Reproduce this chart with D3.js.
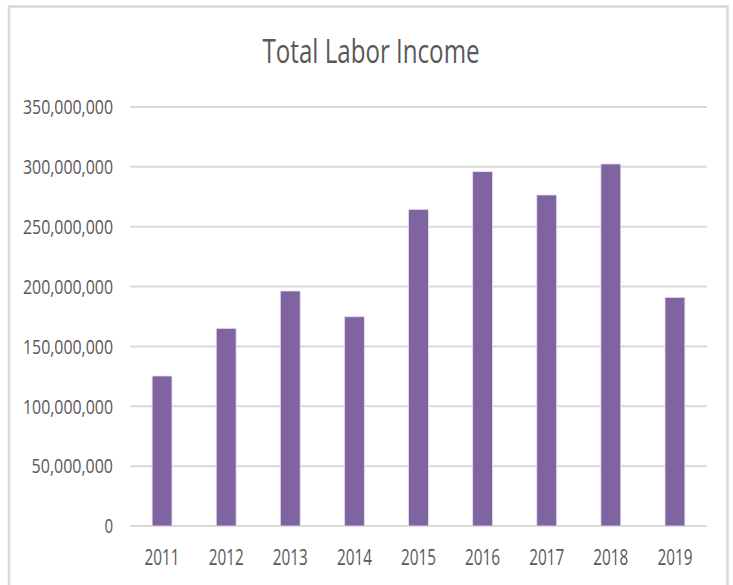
<html>
  <head>
    <script src="https://d3js.org/d3.v7.min.js"></script>
  </head>
  <body style="margin:0;background:#fff">
<div id="chart"></div>
<script>
// data
var years = ["2011", "2012", "2013", "2014", "2015", "2016", "2017", "2018", "2019"];
var income = [125300000, 165100000, 196300000, 174800000, 264500000, 296000000, 276500000, 302400000, 191000000];
var yTicks = [0, 50000000, 100000000, 150000000, 200000000, 250000000, 300000000, 350000000];

var W = 733, H = 585;
var plot = {left: 130, right: 707, top: 107, bottom: 526};

var svg = d3.select("#chart").append("svg")
  .attr("width", W).attr("height", H);

svg.append("rect").attr("width", W).attr("height", H).attr("fill", "#fff");

// chart frame (bottom edge runs off the picture)
svg.append("rect")
  .attr("x", 9).attr("y", 6.5)
  .attr("width", 718.5).attr("height", 620)
  .attr("fill", "none")
  .attr("stroke", "#d9d9d9")
  .attr("stroke-width", 2.5);

var x = d3.scaleBand()
  .domain(years)
  .range([plot.left, plot.right])
  .paddingInner(0.69)
  .paddingOuter(0.345);

var y = d3.scaleLinear()
  .domain([0, 350000000])
  .range([plot.bottom, plot.top]);

// narrow text: squeeze the glyphs to the width seen in the picture
function textWidth(s, digitW, commaW) {
  var w = 0;
  for (var i = 0; i < s.length; i++) w += (s[i] === "," ? commaW : digitW);
  return w;
}

// gridlines
svg.append("g")
  .selectAll("line")
  .data(yTicks)
  .enter()
  .append("line")
    .attr("x1", plot.left).attr("x2", plot.right)
    .attr("y1", function (d) { return y(d); })
    .attr("y2", function (d) { return y(d); })
    .attr("stroke", "#d9d9d9")
    .attr("stroke-width", 2);

// y labels
var fmt = d3.format(",");
svg.append("g")
  .selectAll("text")
  .data(yTicks)
  .enter()
  .append("text")
    .attr("x", 113)
    .attr("y", function (d) { return y(d) + 7.3; })
    .attr("text-anchor", "end")
    .attr("font-family", "Open Sans")
    .attr("font-size", 20)
    .attr("fill", "#595959")
    .attr("textLength", function (d) { return textWidth(fmt(d), 8.6, 6.3); })
    .attr("lengthAdjust", "spacingAndGlyphs")
    .text(function (d) { return fmt(d); });

// bars
svg.append("g")
  .selectAll("rect")
  .data(years)
  .enter()
  .append("rect")
    .attr("x", function (d) { return x(d); })
    .attr("width", x.bandwidth())
    .attr("y", function (d, i) { return y(income[i]); })
    .attr("height", function (d, i) { return y(0) - y(income[i]); })
    .attr("fill", "#8064a2")
    .attr("stroke", "#e6def0")
    .attr("stroke-width", 0.8);

// x labels
svg.append("g")
  .selectAll("text")
  .data(years)
  .enter()
  .append("text")
    .attr("x", function (d) { return x(d) + x.bandwidth() / 2; })
    .attr("y", 565)
    .attr("text-anchor", "middle")
    .attr("font-family", "Open Sans")
    .attr("font-size", 21)
    .attr("fill", "#595959")
    .attr("textLength", 35)
    .attr("lengthAdjust", "spacingAndGlyphs")
    .text(function (d) { return d; });

// title
svg.append("text")
  .attr("x", 371)
  .attr("y", 63)
  .attr("text-anchor", "middle")
  .attr("font-family", "Open Sans")
  .attr("font-size", 32)
  .attr("fill", "#595959")
  .attr("textLength", 217)
  .attr("lengthAdjust", "spacingAndGlyphs")
  .text("Total Labor Income");
</script>
  </body>
</html>
